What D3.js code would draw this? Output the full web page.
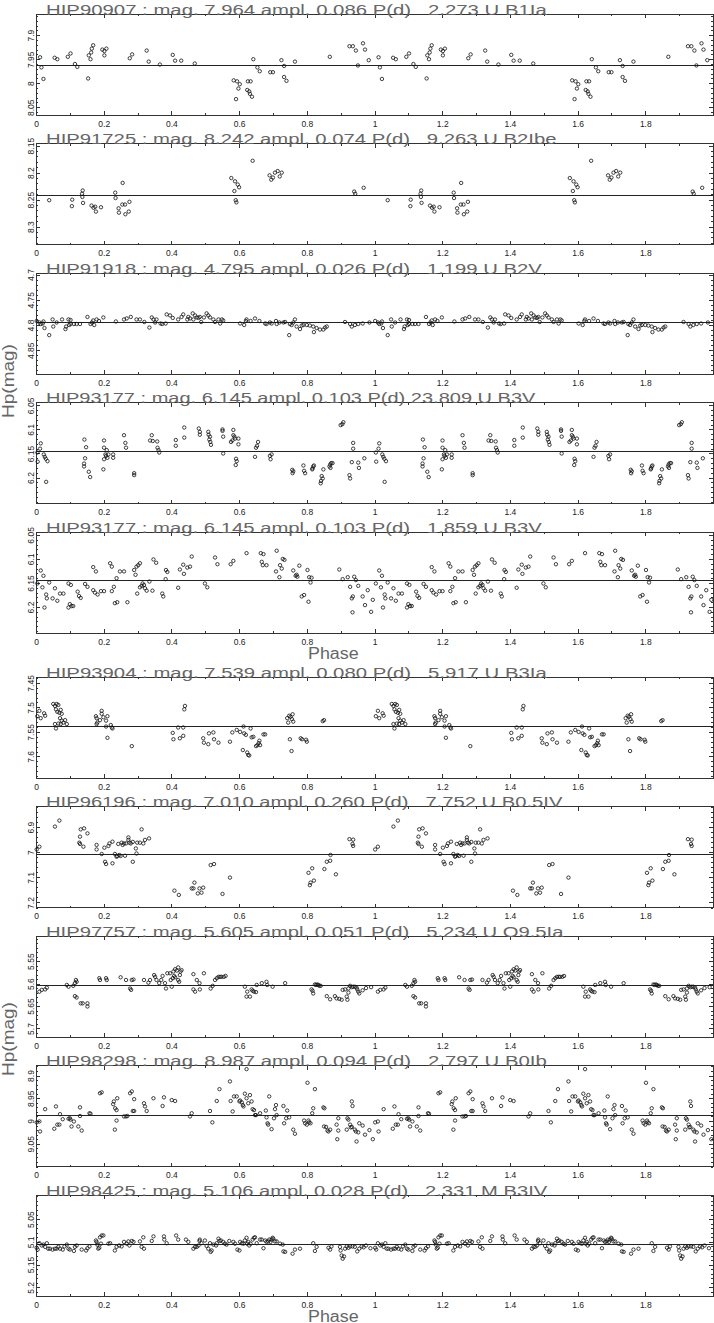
<!DOCTYPE html>
<html><head><meta charset="utf-8">
<script src="https://cdn.jsdelivr.net/npm/d3@7"></script>
<style>body{margin:0;background:#fff}</style>
</head><body><svg id="c" width="714" height="1323" xmlns="http://www.w3.org/2000/svg"></svg>
<script>
// ---------------- DATA ----------------
const titles = [
  "HIP90907 : mag. 7.964 ampl. 0.086 P(d)   2.273 U B1Ia",
  "HIP91725 : mag. 8.242 ampl. 0.074 P(d)   9.263 U B2Ibe",
  "HIP91918 : mag. 4.795 ampl. 0.026 P(d)   1.199 U B2V",
  "HIP93177 : mag. 6.145 ampl. 0.103 P(d) 23.809 U B3V",
  "HIP93177 : mag. 6.145 ampl. 0.103 P(d)   1.859 U B3V",
  "HIP93904 : mag. 7.539 ampl. 0.080 P(d)   5.917 U B3Ia",
  "HIP96196 : mag. 7.010 ampl. 0.260 P(d)   7.752 U B0.5IV",
  "HIP97757 : mag. 5.605 ampl. 0.051 P(d)   5.234 U O9.5Ia",
  "HIP98298 : mag. 8.987 ampl. 0.094 P(d)   2.797 U B0Ib",
  "HIP98425 : mag. 5.106 ampl. 0.028 P(d)   2.331 M B3IV"
];
const meanMags = [7.964, 8.242, 4.795, 6.145, 6.145, 7.539, 7.010, 5.605, 8.987, 5.106];
const yDomains = [
  [7.856, 8.066], [8.146, 8.333], [4.697, 4.897], [6.044, 6.254], [6.044, 6.254],
  [7.438, 7.644], [6.818, 7.220], [5.494, 5.719], [8.878, 9.100], [4.997, 5.219]
];
const yTicks = [
  [7.9, 7.95, 8, 8.05], [8.15, 8.2, 8.25, 8.3], [4.7, 4.75, 4.8, 4.85], [6.05, 6.1, 6.15, 6.2],
  [6.05, 6.1, 6.15, 6.2], [7.45, 7.5, 7.55, 7.6], [6.9, 7, 7.1, 7.2], [5.55, 5.6, 5.65, 5.7],
  [8.9, 8.95, 9, 9.05], [5.05, 5.1, 5.15, 5.2]
];
const yMinorSteps = [0.01, 0.01, 0.01, 0.01, 0.01, 0.01, 0.02, 0.01, 0.01, 0.01];
const xTicks = [0, 0.2, 0.4, 0.6, 0.8, 1, 1.2, 1.4, 1.6, 1.8];
const xTickLabels = ["0", "0.2", "0.4", "0.6", "0.8", "1", "1.2", "1.4", "1.6", "1.8"];
const xLabel = "Phase";
const yLabel = "Hp(mag)";

// [phase, Hp mag] (phase 0-1; plotted twice over 0-2)
const hip90907 = [[0.012,7.946],[0.016,7.967],[0.022,7.991],[0.055,7.947],[0.063,7.950],[0.094,7.945],[0.102,7.938],[0.115,7.960],[0.122,7.966],[0.154,7.990],[0.156,7.942],[0.161,7.950],[0.163,7.936],[0.165,7.928],[0.169,7.921],[0.196,7.930],[0.202,7.933],[0.202,7.942],[0.208,7.928],[0.277,7.948],[0.284,7.940],[0.327,7.932],[0.333,7.955],[0.366,7.961],[0.404,7.941],[0.411,7.953],[0.429,7.953],[0.469,7.959],[0.584,7.994],[0.594,7.996],[0.591,8.033],[0.598,8.011],[0.602,8.002],[0.626,7.996],[0.624,8.014],[0.630,8.017],[0.632,8.022],[0.638,8.028],[0.634,7.996],[0.642,7.950],[0.654,7.967],[0.661,7.975],[0.692,7.977],[0.700,7.977],[0.725,7.952],[0.733,7.964],[0.733,7.987],[0.740,7.995],[0.765,7.955],[0.868,7.945],[0.926,7.923],[0.936,7.923],[0.945,7.932],[0.951,7.963],[0.966,7.917],[0.972,7.930],[0.983,7.952]];
const hip91725 = [[0.039,8.251],[0.106,8.262],[0.107,8.250],[0.136,8.239],[0.137,8.245],[0.138,8.233],[0.139,8.256],[0.164,8.261],[0.170,8.265],[0.175,8.263],[0.177,8.272],[0.192,8.264],[0.234,8.237],[0.235,8.247],[0.244,8.266],[0.245,8.274],[0.255,8.259],[0.256,8.219],[0.263,8.259],[0.264,8.277],[0.274,8.272],[0.276,8.254],[0.577,8.210],[0.586,8.234],[0.588,8.216],[0.590,8.251],[0.592,8.255],[0.596,8.222],[0.600,8.227],[0.640,8.178],[0.690,8.205],[0.695,8.213],[0.700,8.209],[0.706,8.200],[0.714,8.197],[0.720,8.207],[0.726,8.200],[0.940,8.235],[0.943,8.239],[0.968,8.228]];
const hip91918 = [[0.002,4.792],[0.010,4.795],[0.014,4.798],[0.020,4.797],[0.022,4.793],[0.025,4.806],[0.039,4.820],[0.049,4.789],[0.051,4.803],[0.061,4.795],[0.077,4.789],[0.087,4.808],[0.089,4.803],[0.096,4.789],[0.098,4.800],[0.102,4.790],[0.102,4.798],[0.112,4.798],[0.120,4.798],[0.130,4.798],[0.152,4.784],[0.161,4.798],[0.165,4.795],[0.169,4.791],[0.172,4.800],[0.179,4.789],[0.186,4.792],[0.199,4.785],[0.236,4.793],[0.260,4.789],[0.268,4.787],[0.280,4.784],[0.297,4.789],[0.307,4.789],[0.320,4.794],[0.335,4.805],[0.342,4.785],[0.347,4.789],[0.352,4.795],[0.356,4.789],[0.368,4.797],[0.373,4.798],[0.383,4.797],[0.386,4.779],[0.396,4.781],[0.404,4.786],[0.420,4.789],[0.430,4.784],[0.435,4.779],[0.447,4.789],[0.450,4.784],[0.455,4.787],[0.463,4.777],[0.470,4.781],[0.465,4.789],[0.475,4.785],[0.480,4.786],[0.484,4.784],[0.488,4.794],[0.496,4.785],[0.504,4.777],[0.509,4.781],[0.514,4.785],[0.524,4.789],[0.529,4.794],[0.539,4.789],[0.544,4.797],[0.549,4.789],[0.553,4.791],[0.603,4.797],[0.615,4.800],[0.620,4.792],[0.622,4.789],[0.634,4.792],[0.647,4.787],[0.660,4.792],[0.677,4.797],[0.681,4.798],[0.691,4.795],[0.696,4.797],[0.709,4.792],[0.711,4.798],[0.719,4.795],[0.731,4.795],[0.736,4.794],[0.750,4.798],[0.755,4.800],[0.748,4.820],[0.760,4.795],[0.765,4.789],[0.770,4.803],[0.780,4.808],[0.785,4.801],[0.790,4.800],[0.800,4.800],[0.809,4.801],[0.819,4.803],[0.821,4.814],[0.829,4.806],[0.839,4.809],[0.849,4.809],[0.854,4.805],[0.859,4.803],[0.913,4.794],[0.928,4.798],[0.933,4.803],[0.942,4.800],[0.952,4.798],[0.965,4.797],[0.985,4.795]];
const hip93177long = [[0.004,6.148],[0.005,6.167],[0.012,6.140],[0.014,6.129],[0.023,6.152],[0.026,6.157],[0.029,6.161],[0.034,6.166],[0.030,6.209],[0.143,6.121],[0.148,6.137],[0.145,6.160],[0.142,6.171],[0.142,6.177],[0.156,6.188],[0.160,6.199],[0.201,6.123],[0.201,6.138],[0.201,6.162],[0.199,6.183],[0.205,6.152],[0.207,6.155],[0.209,6.143],[0.211,6.159],[0.214,6.152],[0.228,6.152],[0.228,6.159],[0.260,6.112],[0.264,6.128],[0.266,6.138],[0.290,6.191],[0.290,6.195],[0.337,6.123],[0.342,6.112],[0.345,6.124],[0.358,6.125],[0.359,6.138],[0.362,6.143],[0.364,6.148],[0.413,6.122],[0.413,6.134],[0.438,6.096],[0.438,6.117],[0.481,6.098],[0.484,6.105],[0.484,6.111],[0.509,6.105],[0.510,6.111],[0.514,6.115],[0.512,6.121],[0.515,6.126],[0.517,6.132],[0.551,6.100],[0.551,6.103],[0.553,6.115],[0.553,6.150],[0.576,6.126],[0.580,6.123],[0.583,6.101],[0.583,6.112],[0.586,6.115],[0.588,6.119],[0.591,6.161],[0.593,6.166],[0.590,6.174],[0.598,6.119],[0.598,6.131],[0.647,6.157],[0.650,6.138],[0.653,6.134],[0.656,6.126],[0.691,6.155],[0.693,6.162],[0.696,6.152],[0.757,6.184],[0.758,6.191],[0.760,6.187],[0.790,6.175],[0.792,6.186],[0.795,6.191],[0.816,6.183],[0.819,6.177],[0.821,6.175],[0.817,6.181],[0.849,6.183],[0.844,6.197],[0.847,6.202],[0.842,6.207],[0.841,6.212],[0.867,6.177],[0.869,6.173],[0.872,6.170],[0.876,6.170],[0.870,6.180],[0.900,6.091],[0.905,6.089],[0.908,6.085],[0.926,6.195],[0.928,6.202],[0.933,6.168],[0.937,6.128],[0.937,6.140],[0.952,6.169],[0.954,6.180],[0.970,6.160]];
const hip93177short = [[0.004,6.151],[0.014,6.124],[0.022,6.135],[0.019,6.159],[0.030,6.174],[0.032,6.182],[0.025,6.201],[0.039,6.149],[0.049,6.182],[0.056,6.161],[0.063,6.187],[0.071,6.172],[0.081,6.172],[0.096,6.151],[0.103,6.154],[0.096,6.201],[0.100,6.194],[0.105,6.198],[0.110,6.198],[0.123,6.168],[0.127,6.177],[0.132,6.181],[0.145,6.152],[0.152,6.158],[0.169,6.117],[0.177,6.126],[0.169,6.165],[0.174,6.170],[0.182,6.174],[0.192,6.167],[0.201,6.167],[0.219,6.109],[0.224,6.116],[0.224,6.167],[0.230,6.158],[0.233,6.192],[0.240,6.190],[0.238,6.140],[0.248,6.126],[0.260,6.126],[0.270,6.190],[0.290,6.123],[0.294,6.133],[0.297,6.116],[0.299,6.172],[0.302,6.113],[0.307,6.109],[0.307,6.159],[0.312,6.156],[0.315,6.151],[0.319,6.154],[0.322,6.161],[0.327,6.166],[0.335,6.147],[0.344,6.166],[0.347,6.101],[0.355,6.108],[0.373,6.172],[0.376,6.178],[0.384,6.123],[0.388,6.127],[0.383,6.142],[0.420,6.160],[0.425,6.122],[0.435,6.112],[0.437,6.131],[0.447,6.118],[0.455,6.116],[0.460,6.095],[0.499,6.151],[0.506,6.159],[0.529,6.097],[0.536,6.111],[0.575,6.111],[0.583,6.104],[0.622,6.088],[0.664,6.088],[0.672,6.090],[0.667,6.106],[0.670,6.113],[0.681,6.113],[0.711,6.083],[0.709,6.126],[0.719,6.138],[0.721,6.113],[0.726,6.120],[0.729,6.100],[0.734,6.102],[0.760,6.124],[0.767,6.135],[0.770,6.133],[0.772,6.137],[0.778,6.114],[0.785,6.178],[0.792,6.175],[0.805,6.189],[0.802,6.123],[0.807,6.138],[0.814,6.139],[0.811,6.149],[0.896,6.122],[0.906,6.142],[0.921,6.138],[0.928,6.158],[0.933,6.182],[0.936,6.178],[0.935,6.211],[0.940,6.137],[0.945,6.144],[0.952,6.156],[0.965,6.178],[0.972,6.196],[0.980,6.165],[0.990,6.210],[0.995,6.185]];
const hip93904 = [[0.004,7.518],[0.010,7.507],[0.014,7.522],[0.024,7.512],[0.027,7.517],[0.051,7.493],[0.056,7.497],[0.061,7.493],[0.066,7.495],[0.059,7.504],[0.063,7.509],[0.069,7.511],[0.073,7.505],[0.076,7.513],[0.071,7.522],[0.076,7.527],[0.081,7.531],[0.066,7.533],[0.073,7.534],[0.056,7.534],[0.059,7.543],[0.086,7.526],[0.091,7.534],[0.177,7.518],[0.179,7.522],[0.181,7.531],[0.179,7.534],[0.194,7.507],[0.194,7.513],[0.189,7.526],[0.199,7.520],[0.207,7.527],[0.211,7.518],[0.207,7.539],[0.221,7.536],[0.224,7.541],[0.226,7.543],[0.211,7.562],[0.283,7.579],[0.404,7.552],[0.406,7.565],[0.420,7.541],[0.425,7.563],[0.435,7.541],[0.435,7.558],[0.440,7.497],[0.438,7.504],[0.494,7.563],[0.496,7.572],[0.509,7.575],[0.511,7.553],[0.524,7.551],[0.526,7.565],[0.539,7.572],[0.573,7.570],[0.580,7.551],[0.593,7.546],[0.603,7.550],[0.613,7.539],[0.615,7.553],[0.620,7.556],[0.611,7.587],[0.624,7.592],[0.627,7.597],[0.630,7.598],[0.637,7.561],[0.642,7.560],[0.634,7.543],[0.650,7.579],[0.654,7.577],[0.658,7.573],[0.660,7.568],[0.662,7.577],[0.672,7.555],[0.677,7.555],[0.742,7.522],[0.745,7.531],[0.748,7.517],[0.752,7.519],[0.758,7.514],[0.756,7.524],[0.760,7.529],[0.750,7.565],[0.755,7.589],[0.782,7.563],[0.786,7.565],[0.798,7.566],[0.800,7.570],[0.847,7.528],[0.851,7.526]];
const hip96196 = [[0.002,6.989],[0.010,6.978],[0.056,6.898],[0.069,6.874],[0.130,6.938],[0.130,6.967],[0.132,6.909],[0.128,6.962],[0.140,6.978],[0.142,6.905],[0.152,6.925],[0.179,6.971],[0.179,6.989],[0.194,7.007],[0.202,6.982],[0.204,7.038],[0.207,7.047],[0.214,6.975],[0.217,6.965],[0.226,7.044],[0.226,6.958],[0.233,7.007],[0.238,7.018],[0.240,7.015],[0.243,6.967],[0.246,7.011],[0.250,7.015],[0.253,6.962],[0.256,6.971],[0.260,6.965],[0.263,7.014],[0.266,6.965],[0.273,6.951],[0.276,6.962],[0.273,6.941],[0.280,6.965],[0.286,7.038],[0.286,6.959],[0.295,6.985],[0.297,7.005],[0.299,6.962],[0.307,6.962],[0.312,6.909],[0.317,6.965],[0.322,6.951],[0.334,6.945],[0.409,7.153],[0.422,7.170],[0.460,7.144],[0.468,7.121],[0.465,7.144],[0.478,7.164],[0.483,7.144],[0.489,7.161],[0.494,7.141],[0.516,7.051],[0.526,7.047],[0.551,7.166],[0.573,7.101],[0.805,7.082],[0.809,7.131],[0.811,7.121],[0.816,7.064],[0.821,7.113],[0.852,7.067],[0.859,7.038],[0.869,7.034],[0.870,7.011],[0.886,7.088],[0.926,6.948],[0.937,6.950],[0.935,6.967],[0.937,6.975]];
const hip97757 = [[0.010,5.618],[0.017,5.614],[0.027,5.613],[0.032,5.609],[0.091,5.603],[0.096,5.607],[0.110,5.605],[0.115,5.599],[0.120,5.596],[0.118,5.592],[0.115,5.628],[0.120,5.631],[0.132,5.644],[0.138,5.644],[0.152,5.651],[0.152,5.644],[0.187,5.588],[0.189,5.592],[0.207,5.588],[0.209,5.592],[0.250,5.586],[0.266,5.592],[0.278,5.611],[0.281,5.614],[0.283,5.592],[0.288,5.591],[0.319,5.592],[0.332,5.598],[0.337,5.592],[0.349,5.581],[0.352,5.585],[0.356,5.592],[0.364,5.599],[0.370,5.592],[0.374,5.583],[0.381,5.599],[0.384,5.611],[0.388,5.577],[0.396,5.577],[0.398,5.592],[0.401,5.607],[0.404,5.588],[0.406,5.573],[0.408,5.583],[0.411,5.586],[0.411,5.568],[0.416,5.571],[0.420,5.564],[0.420,5.592],[0.425,5.581],[0.427,5.573],[0.423,5.596],[0.430,5.570],[0.465,5.579],[0.465,5.613],[0.470,5.618],[0.475,5.592],[0.483,5.599],[0.484,5.613],[0.496,5.577],[0.516,5.611],[0.522,5.605],[0.529,5.592],[0.534,5.588],[0.539,5.585],[0.544,5.585],[0.548,5.585],[0.555,5.585],[0.560,5.583],[0.617,5.607],[0.622,5.629],[0.624,5.618],[0.632,5.629],[0.637,5.613],[0.640,5.616],[0.644,5.618],[0.652,5.603],[0.650,5.619],[0.667,5.599],[0.681,5.596],[0.683,5.603],[0.699,5.607],[0.736,5.599],[0.814,5.613],[0.817,5.616],[0.819,5.622],[0.824,5.602],[0.827,5.603],[0.831,5.602],[0.834,5.603],[0.837,5.605],[0.841,5.605],[0.859,5.628],[0.869,5.635],[0.883,5.628],[0.888,5.633],[0.896,5.634],[0.903,5.636],[0.906,5.614],[0.913,5.613],[0.918,5.629],[0.920,5.636],[0.923,5.611],[0.923,5.620],[0.928,5.605],[0.933,5.608],[0.937,5.607],[0.942,5.607],[0.947,5.609],[0.949,5.613],[0.952,5.618],[0.955,5.622],[0.965,5.615],[0.975,5.610],[0.990,5.608]];
const hip98298 = [[0.002,9.003],[0.010,9.001],[0.012,9.023],[0.027,8.974],[0.054,9.017],[0.059,8.968],[0.063,9.008],[0.069,9.008],[0.071,8.985],[0.079,8.996],[0.096,8.995],[0.100,8.994],[0.102,8.997],[0.105,9.012],[0.112,9.001],[0.125,9.012],[0.130,8.970],[0.130,8.989],[0.135,9.021],[0.158,8.983],[0.161,8.984],[0.189,8.939],[0.194,8.937],[0.233,9.019],[0.238,8.999],[0.228,8.963],[0.230,8.957],[0.234,8.972],[0.238,8.976],[0.240,8.950],[0.260,8.990],[0.266,8.990],[0.270,8.989],[0.278,8.939],[0.283,8.935],[0.286,8.978],[0.290,8.978],[0.290,8.952],[0.319,8.961],[0.322,8.968],[0.327,8.978],[0.347,8.950],[0.374,8.967],[0.378,8.948],[0.401,8.954],[0.411,8.956],[0.455,8.990],[0.460,8.983],[0.514,8.978],[0.521,9.003],[0.534,8.956],[0.542,8.930],[0.573,8.913],[0.575,8.956],[0.581,8.979],[0.585,8.946],[0.593,8.946],[0.601,8.957],[0.603,8.955],[0.608,8.959],[0.611,8.965],[0.613,8.968],[0.617,8.940],[0.622,8.950],[0.622,8.886],[0.627,8.961],[0.632,8.943],[0.637,8.957],[0.640,8.974],[0.644,8.976],[0.647,8.987],[0.650,8.987],[0.662,8.983],[0.679,8.977],[0.681,8.992],[0.684,9.005],[0.686,9.008],[0.689,8.946],[0.696,9.018],[0.703,8.994],[0.706,8.974],[0.709,8.965],[0.711,8.987],[0.731,8.967],[0.733,9.005],[0.739,8.994],[0.742,8.977],[0.748,8.992],[0.760,9.019],[0.765,9.028],[0.792,8.999],[0.795,9.005],[0.800,9.008],[0.802,8.916],[0.805,8.999],[0.807,9.003],[0.811,9.005],[0.816,8.983],[0.819,8.972],[0.824,8.930],[0.849,8.970],[0.852,8.972],[0.851,9.012],[0.857,9.013],[0.861,9.021],[0.864,9.023],[0.869,9.019],[0.888,9.008],[0.890,9.040],[0.893,9.021],[0.893,8.994],[0.918,9.019],[0.920,8.994],[0.923,8.997],[0.928,9.008],[0.930,9.014],[0.933,9.013],[0.933,8.957],[0.935,8.967],[0.942,9.019],[0.945,9.023],[0.947,9.045],[0.952,9.025],[0.955,9.005],[0.965,9.010],[0.972,9.030],[0.985,9.020],[0.995,9.040]];
const hip98425 = [[0.002,5.113],[0.005,5.117],[0.010,5.103],[0.017,5.108],[0.022,5.106],[0.027,5.111],[0.032,5.103],[0.036,5.115],[0.041,5.115],[0.049,5.117],[0.056,5.115],[0.061,5.115],[0.066,5.111],[0.071,5.115],[0.079,5.117],[0.084,5.110],[0.091,5.106],[0.096,5.115],[0.100,5.117],[0.112,5.120],[0.115,5.111],[0.120,5.108],[0.135,5.117],[0.148,5.119],[0.152,5.114],[0.158,5.110],[0.177,5.097],[0.179,5.100],[0.181,5.106],[0.184,5.115],[0.189,5.090],[0.194,5.086],[0.199,5.086],[0.192,5.104],[0.187,5.113],[0.214,5.104],[0.219,5.103],[0.233,5.119],[0.238,5.111],[0.246,5.108],[0.253,5.110],[0.260,5.100],[0.268,5.104],[0.273,5.099],[0.276,5.108],[0.283,5.098],[0.288,5.100],[0.307,5.099],[0.312,5.111],[0.317,5.090],[0.319,5.115],[0.342,5.098],[0.347,5.088],[0.378,5.088],[0.379,5.095],[0.386,5.103],[0.414,5.086],[0.420,5.095],[0.443,5.095],[0.450,5.100],[0.465,5.115],[0.470,5.111],[0.475,5.111],[0.480,5.108],[0.483,5.098],[0.484,5.095],[0.489,5.103],[0.499,5.097],[0.504,5.109],[0.509,5.115],[0.514,5.103],[0.516,5.122],[0.519,5.119],[0.524,5.106],[0.532,5.108],[0.534,5.103],[0.539,5.093],[0.542,5.098],[0.546,5.097],[0.553,5.100],[0.558,5.104],[0.563,5.106],[0.571,5.098],[0.583,5.100],[0.588,5.104],[0.595,5.117],[0.601,5.119],[0.603,5.100],[0.608,5.103],[0.613,5.104],[0.617,5.097],[0.622,5.091],[0.624,5.104],[0.627,5.100],[0.630,5.108],[0.634,5.104],[0.640,5.095],[0.644,5.091],[0.647,5.090],[0.652,5.103],[0.662,5.095],[0.667,5.095],[0.672,5.114],[0.677,5.097],[0.681,5.100],[0.686,5.099],[0.689,5.095],[0.693,5.100],[0.696,5.095],[0.699,5.091],[0.701,5.093],[0.706,5.099],[0.711,5.099],[0.721,5.104],[0.729,5.106],[0.731,5.121],[0.736,5.122],[0.758,5.126],[0.765,5.117],[0.780,5.115],[0.819,5.103],[0.824,5.120],[0.829,5.111],[0.864,5.113],[0.869,5.117],[0.873,5.110],[0.898,5.111],[0.900,5.119],[0.903,5.130],[0.906,5.137],[0.910,5.132],[0.913,5.115],[0.918,5.110],[0.923,5.113],[0.928,5.110],[0.935,5.110],[0.942,5.111],[0.949,5.121],[0.955,5.115],[0.962,5.110],[0.968,5.112],[0.975,5.108],[0.988,5.114]];

const series = [hip90907, hip91725, hip91918, hip93177long, hip93177short, hip93904, hip96196, hip97757, hip98298, hip98425];

// ---------------- LAYOUT / STYLE ----------------
const svg = d3.select("#c");
const left = 36, right = 713, panelH = 101;
const tops = d3.range(10).map(i => i < 5 ? 14 + 129.5 * i : 677 + 129.5 * (i - 5));
const axisColor = "#333";
const labelFont = "'Liberation Sans', Arial, sans-serif";
const textGray = "#666";
// Hershey simplex advance widths (units) used to size the big labels
const hw = {' ':16,'.':10,':':10,'(':14,')':14,'H':22,'I':8,'P':21,'U':22,'M':24,'B':21,'V':18,'O':22,
  'm':30,'a':19,'g':19,'p':19,'l':8,'d':19,'e':18,'b':19,'h':19,'s':17};
const unitPx = 0.539;
const hLen = s => Array.from(s).reduce((t, c) => t + (/[0-9]/.test(c) ? 20 : (hw[c] || 19)), 0) * unitPx;

const x = d3.scaleLinear().domain([0, 2]).range([left, right]);

series.forEach((data, i) => {
  const top = tops[i], bot = top + panelH;
  const y = d3.scaleLinear().domain(yDomains[i]).range([top, bot]);
  const g = svg.append("g");

  // minor ticks
  const xMinor = d3.range(1, 20, 2).map(k => k / 10);
  const st = yMinorSteps[i];
  const [d0, d1] = yDomains[i];
  const yMinor = d3.range(Math.ceil(d0 / st - 1e-6), Math.floor(d1 / st + 1e-6) + 1).map(k => +(k * st).toFixed(4))
    .filter(v => !yTicks[i].some(t => Math.abs(t - v) < 1e-6));

  const axG = g.append("g").attr("color", axisColor).attr("shape-rendering", "crispEdges");
  const strip = sel => sel.select(".domain").remove();

  // bottom axis with labels
  axG.append("g").attr("transform", `translate(0,${bot})`)
    .call(d3.axisBottom(x).tickValues(xTicks).tickFormat((d, k) => xTickLabels[k]).tickSizeInner(-4).tickSizeOuter(0).tickPadding(5.7))
    .call(strip)
    .call(s => s.selectAll("text").attr("font-family", labelFont).attr("font-size", 8.5).attr("fill", "#222"));
  axG.append("g").attr("transform", `translate(0,${bot})`)
    .call(d3.axisBottom(x).tickValues(xMinor).tickFormat("").tickSizeInner(-2).tickSizeOuter(0)).call(strip);
  // top axis
  axG.append("g").attr("transform", `translate(0,${top})`)
    .call(d3.axisTop(x).tickValues(xTicks).tickFormat("").tickSizeInner(-4).tickSizeOuter(0)).call(strip);
  axG.append("g").attr("transform", `translate(0,${top})`)
    .call(d3.axisTop(x).tickValues(xMinor).tickFormat("").tickSizeInner(-2).tickSizeOuter(0)).call(strip);
  // left axis with rotated labels
  axG.append("g").attr("transform", `translate(${left},0)`)
    .call(d3.axisLeft(y).tickValues(yTicks[i]).tickFormat(d3.format("~g")).tickSizeInner(-4).tickSizeOuter(0))
    .call(strip)
    .call(s => s.selectAll("text").attr("font-family", labelFont).attr("font-size", 8.5).attr("fill", "#222")
      .attr("transform", "rotate(-90)").attr("x", 0).attr("y", -1.6).attr("dy", 0).attr("text-anchor", "middle"));
  axG.append("g").attr("transform", `translate(${left},0)`)
    .call(d3.axisLeft(y).tickValues(yMinor).tickFormat("").tickSizeInner(-2).tickSizeOuter(0)).call(strip);
  // right axis
  axG.append("g").attr("transform", `translate(${right},0)`)
    .call(d3.axisRight(y).tickValues(yTicks[i]).tickFormat("").tickSizeInner(-4).tickSizeOuter(0)).call(strip);
  axG.append("g").attr("transform", `translate(${right},0)`)
    .call(d3.axisRight(y).tickValues(yMinor).tickFormat("").tickSizeInner(-2).tickSizeOuter(0)).call(strip);

  // frame
  g.append("rect").attr("x", left).attr("y", top).attr("width", right - left).attr("height", panelH)
    .attr("fill", "none").attr("stroke", axisColor).attr("stroke-width", 1).attr("shape-rendering", "crispEdges");

  // mean magnitude line
  g.append("line").attr("x1", left).attr("x2", right)
    .attr("y1", y(meanMags[i])).attr("y2", y(meanMags[i]))
    .attr("stroke", "#222").attr("stroke-width", 1).attr("shape-rendering", "crispEdges");

  // points (phase shown twice)
  const pts = data.flatMap(d => [d, [d[0] + 1, d[1]]]);
  g.append("g").selectAll("circle").data(pts).join("circle")
    .attr("cx", d => x(d[0])).attr("cy", d => y(d[1])).attr("r", 1.7)
    .attr("fill", "none").attr("stroke", "#111").attr("stroke-width", 0.8);

  // title
  g.append("text").attr("x", 46).attr("y", top + 0.5)
    .attr("font-family", labelFont).attr("font-size", 15.5).attr("fill", textGray)
    .style("white-space", "pre")
    .attr("textLength", hLen(titles[i])).attr("lengthAdjust", "spacingAndGlyphs")
    .text(titles[i]);

  // x axis title under panels 5 and 10
  if (i === 4 || i === 9) {
    g.append("text").attr("x", 308).attr("y", bot + 25.5)
      .attr("font-family", labelFont).attr("font-size", 16).attr("fill", textGray)
      .attr("textLength", hLen(xLabel)).attr("lengthAdjust", "spacingAndGlyphs")
      .text(xLabel);
  }
});

// y axis titles (one per half)
[381, 1039].forEach(cy => {
  svg.append("text").attr("transform", `translate(14,${cy}) rotate(-90)`)
    .attr("text-anchor", "middle").attr("font-family", labelFont).attr("font-size", 16).attr("fill", textGray)
    .attr("textLength", hLen(yLabel)).attr("lengthAdjust", "spacingAndGlyphs")
    .text(yLabel);
});
</script>
</body></html>
